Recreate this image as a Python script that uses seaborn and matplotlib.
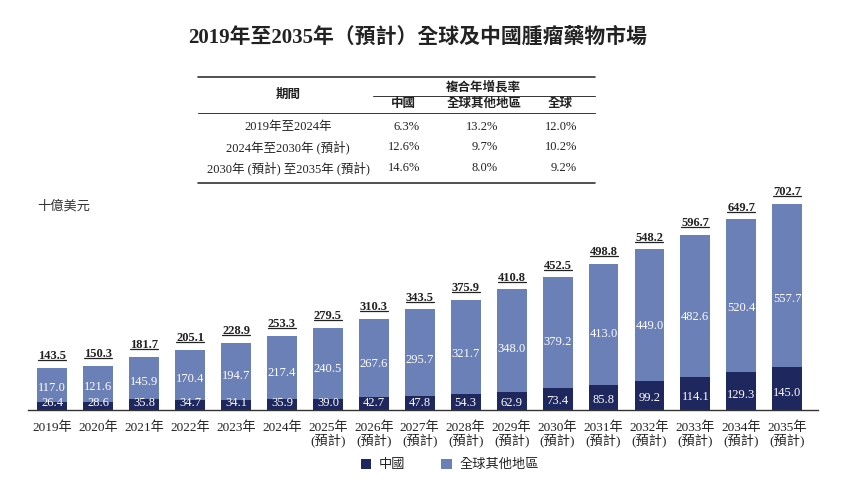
import matplotlib
matplotlib.use("Agg")
import matplotlib.pyplot as plt
import seaborn as sns
import pandas as pd
from matplotlib.patches import Patch
from matplotlib.lines import Line2D

# ---------------- data ----------------
years = ["2019年", "2020年", "2021年", "2022年", "2023年", "2024年",
         "2025年\n(預計)", "2026年\n(預計)", "2027年\n(預計)", "2028年\n(預計)",
         "2029年\n(預計)", "2030年\n(預計)", "2031年\n(預計)", "2032年\n(預計)",
         "2033年\n(預計)", "2034年\n(預計)", "2035年\n(預計)"]
china = [26.4, 28.6, 35.8, 34.7, 34.1, 35.9, 39.0, 42.7, 47.8, 54.3, 62.9, 73.4,
         85.8, 99.2, 114.1, 129.3, 145.0]
rest = [117.0, 121.6, 145.9, 170.4, 194.7, 217.4, 240.5, 267.6, 295.7, 321.7, 348.0,
        379.2, 413.0, 449.0, 482.6, 520.4, 557.7]
total = [143.5, 150.3, 181.7, 205.1, 228.9, 253.3, 279.5, 310.3, 343.5, 375.9, 410.8,
         452.5, 498.8, 548.2, 596.7, 649.7, 702.7]

title = "2019年至2035年（預計）全球及中國腫瘤藥物市場"
unit_label = "十億美元"
series_names = ["中國", "全球其他地區"]

cagr_header = "複合年增長率"
cagr_period_header = "期間"
cagr_cols = ["中國", "全球其他地區", "全球"]
cagr_periods = ["2019年至2024年", "2024年至2030年 (預計)", "2030年 (預計) 至2035年 (預計)"]
cagr_china = ["6.3%", "12.6%", "14.6%"]
cagr_rest = ["13.2%", "9.7%", "8.0%"]
cagr_global = ["12.0%", "10.2%", "9.2%"]

# ---------------- style ----------------
DARK = "#1f285e"
LIGHT = "#6b80b6"
TXT = "#222222"
FONT = ["Liberation Serif", "Noto Sans CJK TC", "DejaVu Sans"]

sns.set_theme(style="white")
plt.rcParams["font.family"] = FONT

W, H = 852, 490
fig = plt.figure(figsize=(W / 100, H / 100), dpi=100)


def fx(px):
    return px / W


def fy(py):
    return 1 - py / H


ax = fig.add_axes([fx(28), fy(410), fx(818) - fx(28), fy(187) - fy(410)])

df = pd.DataFrame({"year": years, "china": china, "rest": rest, "total": total})

sns.barplot(data=df, x="year", y="total", color=LIGHT, width=0.65, ax=ax,
            saturation=1, edgecolor="none")
sns.barplot(data=df, x="year", y="china", color=DARK, width=0.65, ax=ax,
            saturation=1, edgecolor="none")

ax.set_xlim(-0.53, 16.67)
ax.set_ylim(0, 760)
ax.set_xlabel("")
ax.set_ylabel("")
ax.set_yticks([])
for s in ["top", "right", "left"]:
    ax.spines[s].set_visible(False)
ax.spines["bottom"].set_color("#333333")
ax.spines["bottom"].set_linewidth(1.0)
ax.tick_params(axis="x", length=0, pad=8, labelsize=9.5, colors=TXT)
for lab in ax.get_xticklabels():
    lab.set_family(FONT)
    lab.set_multialignment("center")
    lab.set_linespacing(1.05)

# segment labels
for i in range(len(years)):
    ax.text(i, max(0.4 * china[i], 24), f"{china[i]:.1f}", ha="center", va="center",
            color="white", fontsize=9, family=FONT)
    ax.text(i, china[i] + 0.42 * rest[i], f"{rest[i]:.1f}", ha="center", va="center",
            color="white", fontsize=9, family=FONT)

# total labels (bold, underlined)
tot_texts = []
for i in range(len(years)):
    t = ax.annotate(f"{total[i]:.1f}", (i, total[i]), xytext=(0, 4),
                    textcoords="offset points", ha="center", va="bottom",
                    fontsize=9, fontweight="bold", color=TXT, family=FONT)
    tot_texts.append(t)

# title
fig.text(fx(418), fy(38), title, ha="center", va="center", fontsize=15,
         fontweight="bold", color=TXT, family=FONT)

# unit label
fig.text(fx(37), fy(206), unit_label, ha="left", va="center", fontsize=9.5,
         color="#333333", family=FONT)

# CAGR table
def hline(y, x0, x1, lw):
    fig.add_artist(Line2D([fx(x0), fx(x1)], [fy(y), fy(y)], color="#333333",
                          linewidth=lw, transform=fig.transFigure))


hline(77, 198, 595, 1.2)
hline(96, 373, 595, 0.7)
hline(113, 198, 595, 0.7)
hline(183, 198, 595, 1.2)

fig.text(fx(288), fy(95), cagr_period_header, ha="center", va="center",
         fontsize=9, fontweight="bold", color=TXT, family=FONT)
fig.text(fx(483), fy(87), cagr_header, ha="center", va="center",
         fontsize=9, fontweight="bold", color=TXT, family=FONT)
for cx, name in zip([403, 484, 560], cagr_cols):
    fig.text(fx(cx), fy(104), name, ha="center", va="center",
             fontsize=9, fontweight="bold", color=TXT, family=FONT)
for r, yy in enumerate([127, 147, 168]):
    fig.text(fx(288), fy(yy), cagr_periods[r], ha="center", va="center",
             fontsize=9, color=TXT, family=FONT)
    fig.text(fx(420), fy(yy), cagr_china[r], ha="right", va="center",
             fontsize=9, color=TXT, family=FONT)
    fig.text(fx(498), fy(yy), cagr_rest[r], ha="right", va="center",
             fontsize=9, color=TXT, family=FONT)
    fig.text(fx(577), fy(yy), cagr_global[r], ha="right", va="center",
             fontsize=9, color=TXT, family=FONT)

# legend
handles = [Patch(facecolor=DARK, edgecolor="none"), Patch(facecolor=LIGHT, edgecolor="none")]
leg = fig.legend(handles, series_names, loc="center", bbox_to_anchor=(fx(450), fy(465)),
                 ncol=2, frameon=False, handlelength=0.8, handleheight=0.8,
                 columnspacing=2.7, handletextpad=0.6, prop={"family": FONT, "size": 9.5})
for t in leg.get_texts():
    t.set_color(TXT)

# underline the totals using their rendered extents
fig.canvas.draw()
renderer = fig.canvas.get_renderer()
inv = fig.transFigure.inverted()
for t in tot_texts:
    bb = t.get_window_extent(renderer)
    (x0, y0) = inv.transform((bb.x0, bb.y0 + 2.0))
    (x1, _) = inv.transform((bb.x1, bb.y0 + 2.0))
    fig.add_artist(Line2D([x0, x1], [y0, y0], color=TXT, linewidth=0.9,
                          transform=fig.transFigure))

fig.savefig("out.png", dpi=100)
